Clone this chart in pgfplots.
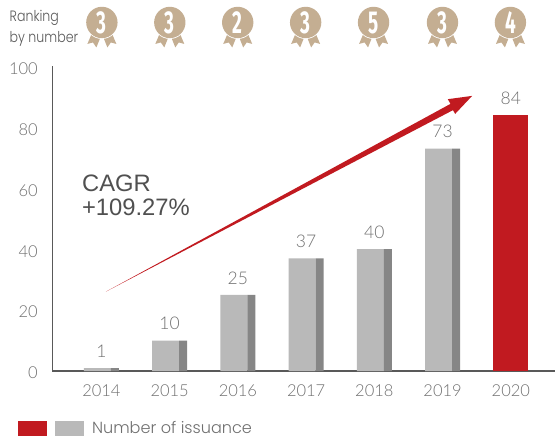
\documentclass[border=0pt]{standalone}
\usepackage{pgfplots}
\usepackage{fontspec}
\pgfplotsset{compat=1.18}
\setmainfont[UprightFont=* Light,BoldFont=*]{Poppins}
\newfontfamily\medalfont{Fira Sans}
\newfontfamily\numfont{Liberation Sans}
\newfontfamily\lightnum{Lato Light}
\definecolor{txt}{HTML}{6F6F6F}
\definecolor{lightbar}{HTML}{B9B9B9}
\definecolor{darkbar}{HTML}{868686}
\definecolor{redbar}{HTML}{C11A20}
\definecolor{medal}{HTML}{C4AE92}
\definecolor{axisc}{HTML}{595959}
\newcommand{\medalat}[2]{%
  \begin{scope}[shift={(#1pt,418.5pt)}]
    \fill[medal] (-10.5pt,-12pt) -- (-14.5pt,-21.5pt) -- (-9pt,-20pt) -- (-5.5pt,-25pt) -- (-1.5pt,-15pt) -- cycle;
    \fill[medal] (10.5pt,-12pt) -- (14.5pt,-21.5pt) -- (9pt,-20pt) -- (5.5pt,-25pt) -- (1.5pt,-15pt) -- cycle;
    \fill[white] (0,0) circle (16.5pt);
    \fill[medal] (0,0) circle (15.7pt);
    \node[white,inner sep=0pt] at (0,-0.5pt) {\scalebox{0.76}[1.27]{\fontsize{25}{25}\medalfont\bfseries #2}};
  \end{scope}}
\begin{document}
\begin{tikzpicture}[x=1pt,y=1pt]
\path (0,0) rectangle (556,441);
\begin{axis}[
  at={(52.5pt,69.5pt)}, anchor=south west,
  scale only axis, width=503.5pt, height=305pt,
  xmin=-0.717, xmax=6.652, ymin=0, ymax=100,
  axis lines=left, axis line style={axisc,line width=1.3pt,-},
  xtick={0,1,2,3,4,5,6},
  xticklabels={2014,2015,2016,2017,2018,2019,2020},
  ytick={0,20,40,60,80,100},
  tick style={draw=none},
  clip=false,
  ticklabel style={text=txt,font=\fontsize{16.5}{16.5}\lightnum},
  /pgf/number format/assume math mode=true,
  xticklabel style={yshift=-6pt},
  yticklabel style={xshift=-9pt,yshift=-2pt},
  ybar, 
]
\addplot[fill=lightbar,draw=none,bar width=27pt,bar shift=-4pt] coordinates {(0,1)(1,10)(2,25)(3,37)(4,40)(5,73)};
\addplot[fill=darkbar,draw=none,bar width=8pt,bar shift=13.5pt] coordinates {(0,1)(1,10)(2,25)(3,37)(4,40)(5,73)};
\addplot[fill=redbar,draw=none,bar width=35pt,bar shift=0pt] coordinates {(6,84)};
\addplot[fill=none,draw=none,bar width=35pt,bar shift=0pt,
  nodes near coords,
  every node near coord/.append style={text=txt,font=\fontsize{17.5}{17.5}\lightnum,anchor=south,inner sep=0pt,yshift=10.5pt,
  /pgf/number format/assume math mode=true}]
  coordinates {(0,1)(1,10)(2,25)(3,37)(4,40)(5,73)(6,84)};
\end{axis}
% arrow
\fill[redbar] (106,149) -- (451,337) -- (448.3,341.7) -- (472.7,345) -- (455.7,327) -- (453.5,330.7) -- cycle;
% CAGR
\node[anchor=base west,inner sep=0pt,text=axisc!90!black] at (82,249) {\fontsize{23.8}{23.8}\numfont CAGR};
\node[anchor=base west,inner sep=0pt,text=axisc!90!black] at (82,225) {\fontsize{23.8}{23.8}\numfont +109.27\%};
% ranking
\node[anchor=base west,inner sep=0pt,text=axisc] at (9.5,419) {\scalebox{0.84}[1]{\fontsize{15}{15}\selectfont Ranking}};
\node[anchor=base west,inner sep=0pt,text=axisc] at (9.5,398) {\scalebox{0.84}[1]{\fontsize{15}{15}\selectfont by number}};
\medalat{102}{3}\medalat{170}{3}\medalat{238}{2}\medalat{306}{3}\medalat{374}{5}\medalat{443}{3}\medalat{511}{4}
% legend
\fill[redbar] (18,4) rectangle (47,20);
\fill[lightbar] (55,4) rectangle (84,20);
\node[anchor=base west,inner sep=0pt,text=txt] at (92,6.5) {\fontsize{16.1}{16.1}\selectfont Number of issuance};
\end{tikzpicture}
\end{document}
